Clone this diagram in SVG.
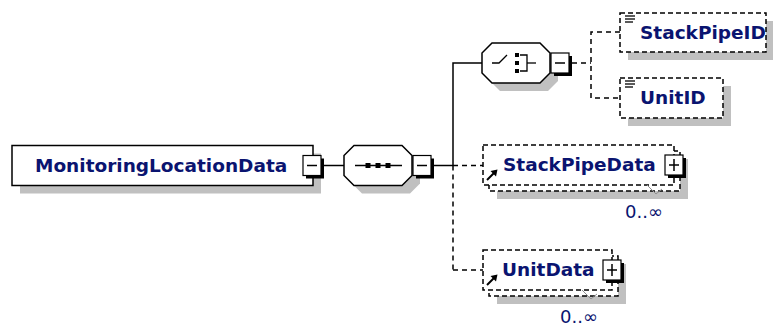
<svg xmlns="http://www.w3.org/2000/svg" width="773" height="326" viewBox="0 0 773 326">
<defs>
<style>
.shadow{fill:#c0c0c0}
.box{fill:#fff;stroke:#000;stroke-width:1.5}
.opt{fill:#fff;stroke:#000;stroke-width:1.5;stroke-dasharray:5 3}
.ln{fill:none;stroke:#000;stroke-width:1.5}
.dash{fill:none;stroke:#000;stroke-width:1.5;stroke-dasharray:5 4}
.lbl{font-family:"DejaVu Sans",Verdana,sans-serif;font-weight:bold;font-size:18.5px;fill:#0a1470}
.card{font-family:"DejaVu Sans",sans-serif;font-size:18px;fill:#0a1470}
.btnsh{fill:#000}
.btn{fill:#fff;stroke:#000;stroke-width:1.2}
.ico{fill:none;stroke:#000;stroke-width:1.3}
.arr{fill:none;stroke:#000;stroke-width:2}
.notch{fill:none;stroke:#909090;stroke-width:1}
</style>
</defs>
<rect width="773" height="326" fill="#fff"/>

<g id="connectors">
  <line x1="324" y1="165.5" x2="344" y2="165.5" class="ln"/>
  <line x1="434" y1="165.5" x2="453" y2="165.5" class="ln"/>
  <polyline points="453,165.5 453,63 482,63" class="ln"/>
  <line x1="453" y1="165.5" x2="453" y2="270" class="dash"/>
  <line x1="453" y1="165.5" x2="483" y2="165.5" class="dash"/>
  <line x1="453" y1="270" x2="483" y2="270" class="dash"/>
  <line x1="572" y1="63" x2="591" y2="63" class="dash"/>
  <polyline points="620,32 591,32 591,98 620,98" class="dash"/>
</g>

<g id="MonitoringLocationData">
  <rect x="20" y="153.5" width="301" height="40" class="shadow"/>
  <rect x="12" y="145.5" width="301" height="40" class="box"/>
  <text x="35" y="172" class="lbl">MonitoringLocationData</text>
  <rect x="306" y="158.5" width="18" height="20" class="btnsh"/>
  <rect x="303" y="155.5" width="18" height="20" class="btn"/>
  <line x1="307" y1="165.5" x2="317" y2="165.5" class="ln"/>
</g>

<g id="sequence">
  <polygon points="362,153.5 410,153.5 420,163.5 420,183.5 410,193.5 362,193.5 352,183.5 352,163.5" class="shadow"/>
  <polygon points="354,145.5 402,145.5 412,155.5 412,175.5 402,185.5 354,185.5 344,175.5 344,155.5" class="box"/>
  <line x1="355" y1="165.5" x2="402" y2="165.5" class="ln"/>
  <rect x="365.5" y="163" width="5" height="5"/>
  <rect x="375.5" y="163" width="5" height="5"/>
  <rect x="385.5" y="163" width="5" height="5"/>
  <rect x="416" y="158.5" width="18" height="20" class="btnsh"/>
  <rect x="413" y="155.5" width="18" height="20" class="btn"/>
  <line x1="417" y1="165.5" x2="427" y2="165.5" class="ln"/>
</g>

<g id="choice">
  <polygon points="500,51 548,51 558,61 558,81 548,91 500,91 490,81 490,61" class="shadow"/>
  <polygon points="492,43 540,43 550,53 550,73 540,83 492,83 482,73 482,53" class="box"/>
  <polyline points="492,63 499,63 507,55" class="ico"/>
  <rect x="515" y="53" width="4" height="4"/>
  <rect x="515" y="61" width="4" height="4"/>
  <rect x="515" y="69" width="4" height="4"/>
  <polyline points="520,55 527,55 527,71 520,71" class="ico"/>
  <line x1="527" y1="63" x2="536" y2="63" class="ico"/>
  <rect x="554" y="56" width="18" height="20" class="btnsh"/>
  <rect x="551" y="53" width="18" height="20" class="btn"/>
  <line x1="555" y1="63" x2="565" y2="63" class="ln"/>
</g>

<g id="StackPipeID">
  <rect x="628" y="21" width="146" height="39" class="shadow"/>
  <rect x="620" y="13" width="146" height="39" class="opt"/>
  <line x1="625" y1="16" x2="635" y2="16" class="ico"/>
  <line x1="625" y1="19" x2="635" y2="19" class="ico"/>
  <line x1="625" y1="22" x2="633" y2="22" class="ico"/>
  <text x="640" y="38.5" class="lbl">StackPipeID</text>
</g>

<g id="UnitID">
  <rect x="628" y="86" width="103" height="40" class="shadow"/>
  <rect x="620" y="78" width="103" height="40" class="opt"/>
  <line x1="625" y1="81" x2="635" y2="81" class="ico"/>
  <line x1="625" y1="84" x2="635" y2="84" class="ico"/>
  <line x1="625" y1="87" x2="633" y2="87" class="ico"/>
  <text x="640" y="104" class="lbl">UnitID</text>
</g>

<g id="StackPipeData">
  <rect x="497" y="159" width="191" height="40" class="shadow"/>
  <rect x="489" y="151" width="191" height="40" class="opt"/>
  <rect x="483" y="145" width="191" height="40" class="opt"/>
  <text x="503" y="171" class="lbl">StackPipeData</text>
  <line x1="487" y1="180" x2="494" y2="173" class="arr"/>
  <polygon points="497.5,169.5 490.5,171 496,176.5"/>
  <rect x="668" y="158" width="18" height="20" class="btnsh"/>
  <rect x="665" y="155" width="18" height="20" class="btn"/>
  <line x1="669" y1="165" x2="679" y2="165" class="ln"/>
  <line x1="674" y1="159" x2="674" y2="171" class="ln"/>
  <polyline points="647,185 656,194 662,189" class="notch"/>
  <text x="625" y="218" class="card">0..∞</text>
</g>

<g id="UnitData">
  <rect x="497" y="264" width="129" height="40" class="shadow"/>
  <rect x="489" y="256" width="129" height="40" class="opt"/>
  <rect x="483" y="250" width="129" height="40" class="opt"/>
  <text x="502" y="276" class="lbl">UnitData</text>
  <line x1="487" y1="285" x2="494" y2="278" class="arr"/>
  <polygon points="497.5,274.5 490.5,276 496,281.5"/>
  <rect x="606" y="263" width="18" height="20" class="btnsh"/>
  <rect x="603" y="260" width="18" height="20" class="btn"/>
  <line x1="607" y1="270" x2="617" y2="270" class="ln"/>
  <line x1="612" y1="264" x2="612" y2="276" class="ln"/>
  <polyline points="582,290 591,299 597,294" class="notch"/>
  <text x="560" y="323" class="card">0..∞</text>
</g>
</svg>
